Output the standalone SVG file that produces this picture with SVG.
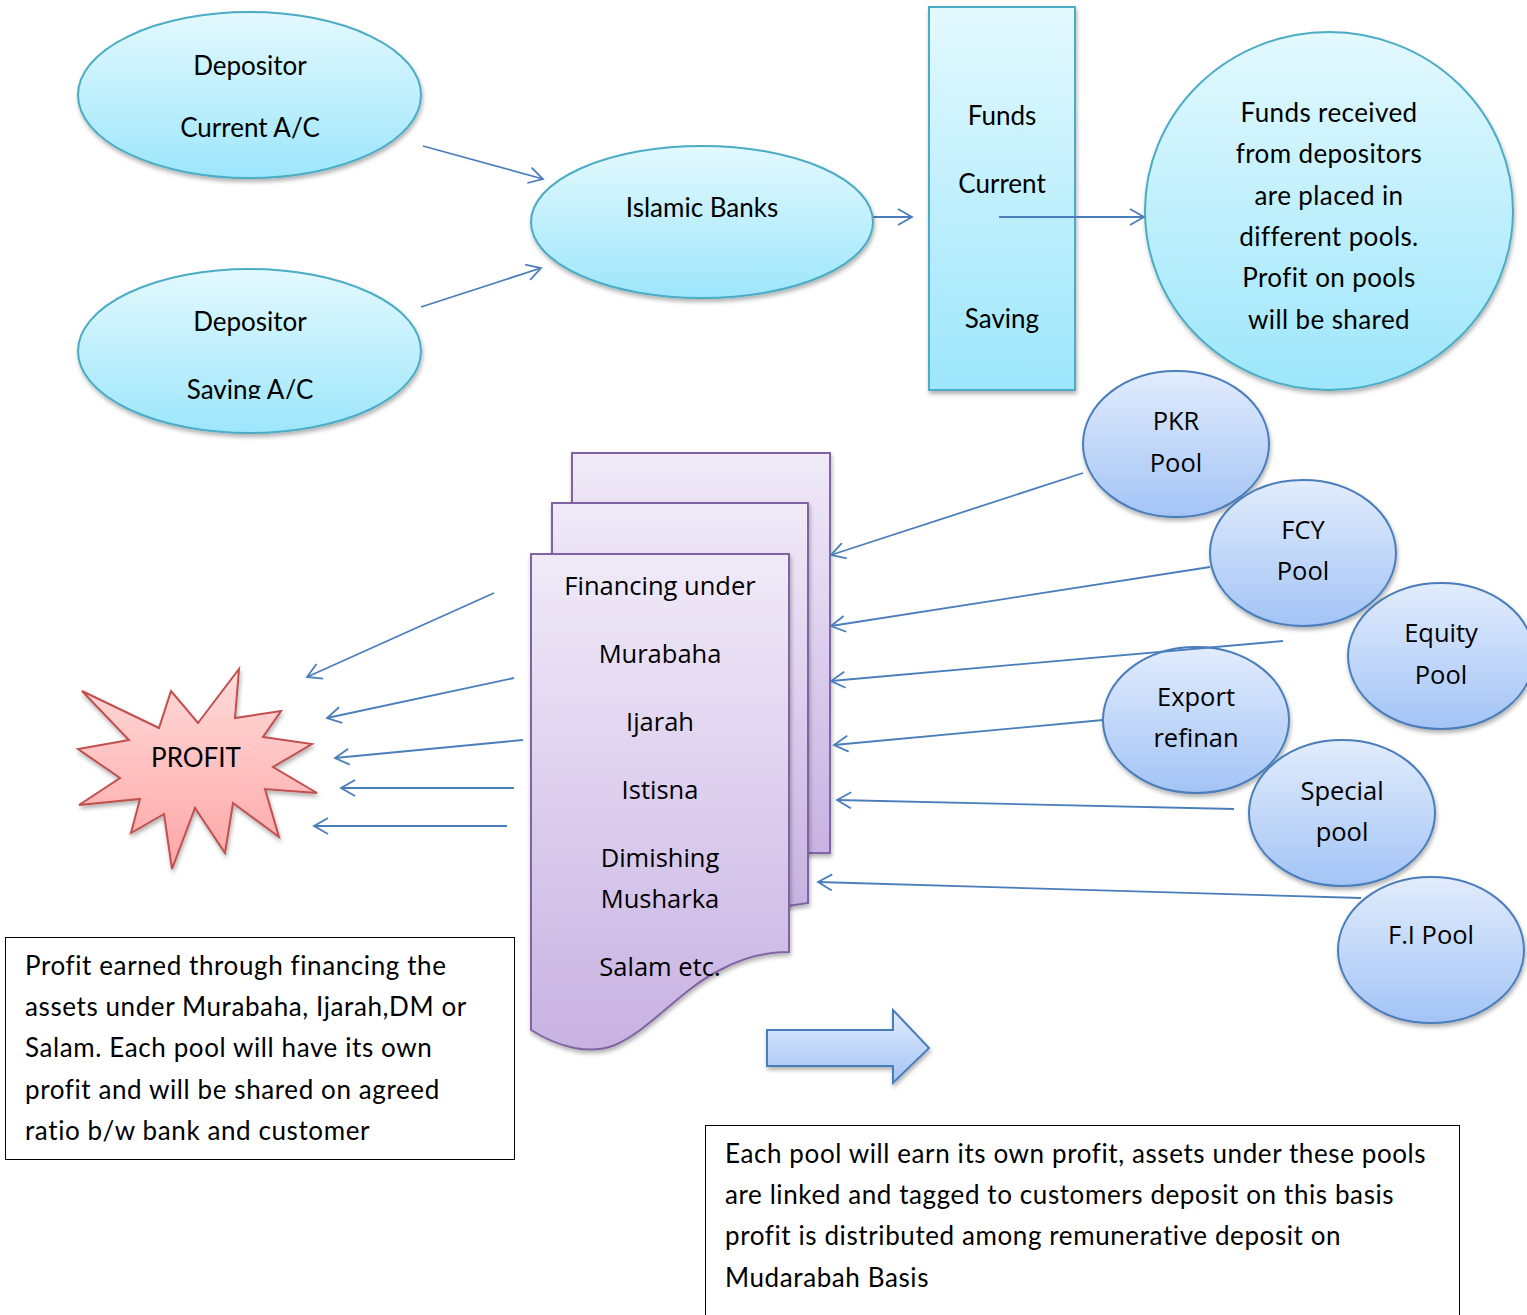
<svg xmlns="http://www.w3.org/2000/svg" width="1527" height="1315" viewBox="0 0 1527 1315">
<style>
.cal{font-family:Lato,"Liberation Sans",sans-serif;font-size:26px;fill:#000}
.nt{letter-spacing:0.6px}
.ls{letter-spacing:0.4px}
.op{font-family:"Open Sans","Liberation Sans",sans-serif;font-size:25.5px;fill:#000}
.mid{text-anchor:middle}
.cy{fill:url(#gCyan);stroke:#4bacc6;stroke-width:2;filter:url(#sh)}
.pool{fill:url(#gBlue);stroke:#4a7ebb;stroke-width:2;filter:url(#sh)}
.doc{fill:url(#gPurp);stroke:#8064a2;stroke-width:2;filter:url(#sh)}
.con{stroke:#4a7ebb;stroke-width:1.8;fill:none;marker-end:url(#arr)}
.box{fill:#fff;stroke:#000;stroke-width:1}
</style>
<defs>
<linearGradient id="gCyan" x1="0" y1="0" x2="0" y2="1"><stop offset="0" stop-color="#e3f9fe"/><stop offset="1" stop-color="#9de6fb"/></linearGradient>
<linearGradient id="gBlue" x1="0" y1="0" x2="0" y2="1"><stop offset="0" stop-color="#e2ecfc"/><stop offset="1" stop-color="#a3c4f6"/></linearGradient>
<linearGradient id="gPurp" x1="0" y1="0" x2="0" y2="1"><stop offset="0" stop-color="#f0eaf8"/><stop offset="1" stop-color="#c8b2e2"/></linearGradient>
<linearGradient id="gRed" x1="0" y1="0" x2="0" y2="1"><stop offset="0" stop-color="#ffdada"/><stop offset="1" stop-color="#ffa6a6"/></linearGradient>
<filter id="sh" x="-10%" y="-10%" width="125%" height="130%"><feDropShadow dx="1" dy="3" stdDeviation="2" flood-color="#000" flood-opacity="0.3"/></filter>
<marker id="arr" markerUnits="userSpaceOnUse" markerWidth="20" markerHeight="20" refX="16" refY="9" orient="auto"><path d="M2,1 L16,9 L2,17" fill="none" stroke="#4a7ebb" stroke-width="1.8"/></marker>
<clipPath id="c1"><rect x="0" y="0" width="600" height="399"/></clipPath>
<clipPath id="c2"><rect x="1100" y="0" width="427" height="331"/></clipPath>
</defs>

<g id="connectors">
<line class="con" x1="423" y1="146" x2="543" y2="179"/>
<line class="con" x1="421" y1="307" x2="541" y2="268"/>
<line class="con" x1="873" y1="217" x2="912" y2="217"/>
</g>

<g id="depositor-current">
<ellipse class="cy" cx="249.5" cy="95" rx="171.5" ry="83"/>
<text class="cal mid" x="250" y="75">Depositor</text>
<text class="cal mid" x="250" y="137">Current A/C</text>
</g>
<g id="depositor-saving">
<ellipse class="cy" cx="249.5" cy="351" rx="171.5" ry="82"/>
<text class="cal mid" x="250" y="331">Depositor</text>
<text class="cal mid" x="250" y="399" clip-path="url(#c1)">Saving A/C</text>
</g>
<g id="islamic-banks">
<ellipse class="cy" cx="702" cy="222" rx="171" ry="76"/>
<text class="cal mid" x="702" y="217">Islamic Banks</text>
</g>
<g id="funds">
<rect class="cy" x="929" y="7" width="146" height="383"/>
<text class="cal mid" x="1002" y="125">Funds</text>
<text class="cal mid" x="1002" y="193">Current</text>
<text class="cal mid" x="1002" y="328">Saving</text>
</g>
<g id="pools-circle">
<ellipse class="cy" cx="1329" cy="211" rx="184" ry="179"/>
<g clip-path="url(#c2)">
<text class="cal mid ls" x="1329" y="122">Funds received</text>
<text class="cal mid ls" x="1329" y="163">from depositors</text>
<text class="cal mid ls" x="1329" y="205">are placed in</text>
<text class="cal mid ls" x="1329" y="246">different pools.</text>
<text class="cal mid ls" x="1329" y="287">Profit on pools</text>
<text class="cal mid ls" x="1329" y="329">will be shared</text>
</g>
</g>
<g id="connectors2">
<line class="con" x1="999" y1="217" x2="1144" y2="217"/>
</g>

<g id="financing">
<rect class="doc" x="572" y="453" width="258" height="400"/>
<path class="doc" d="M552,503 H808 V903 L788,906 H552 Z"/>
<path class="doc" d="M531,554 H789 V952 C765,952 742,958 720,970 C680,990 650,1030 615,1045 C590,1055 560,1048 531,1030 Z"/>
<text class="op mid" x="660" y="595">Financing under</text>
<text class="op mid" x="660" y="663">Murabaha</text>
<text class="op mid" x="660" y="731">Ijarah</text>
<text class="op mid" x="660" y="799">Istisna</text>
<text class="op mid" x="660" y="867">Dimishing</text>
<text class="op mid" x="660" y="908">Musharka</text>
<text class="op mid" x="660" y="976">Salam etc.</text>
</g>

<g id="profit">
<polygon points="82,691 159,728 171,691 198,723 239,669 235,718 281,711 263,737 312,744 273,767 317,793 265,789 279,837 233,803 225,853 195,808 172,869 164,814 131,833 140,799 79,805 120,778 78,749 129,740" fill="url(#gRed)" stroke="#c0504d" stroke-width="2" filter="url(#sh)"/>
<text class="cal mid" x="196" y="767">PROFIT</text>
</g>

<g id="pool-connectors">
<line class="con" x1="1083" y1="473" x2="831" y2="555"/>
<line class="con" x1="1210" y1="567" x2="831" y2="626"/>
<line class="con" x1="1103" y1="720" x2="834" y2="745"/>
<line class="con" x1="1234" y1="809" x2="837" y2="800"/>
<line class="con" x1="1361" y1="898" x2="818" y2="882"/>
</g>

<g id="pkr-pool">
<ellipse class="pool" cx="1176" cy="444" rx="93" ry="73"/>
<text class="op mid" x="1176" y="430">PKR</text>
<text class="op mid" x="1176" y="472">Pool</text>
</g>
<g id="fcy-pool">
<ellipse class="pool" cx="1303" cy="553" rx="93" ry="73"/>
<text class="op mid" x="1303" y="539">FCY</text>
<text class="op mid" x="1303" y="580">Pool</text>
</g>
<g id="equity-pool">
<ellipse class="pool" cx="1441" cy="656" rx="93" ry="73"/>
<text class="op mid" x="1441" y="642">Equity</text>
<text class="op mid" x="1441" y="684">Pool</text>
</g>
<g id="export-refinan">
<ellipse class="pool" cx="1196" cy="720" rx="93" ry="73"/>
<text class="op mid" x="1196" y="706">Export</text>
<text class="op mid" x="1196" y="747">refinan</text>
</g>
<g id="connectors3">
<line class="con" x1="1283" y1="641" x2="831" y2="681"/>
</g>
<g id="special-pool">
<ellipse class="pool" cx="1342" cy="813" rx="93" ry="73"/>
<text class="op mid" x="1342" y="800">Special</text>
<text class="op mid" x="1342" y="841">pool</text>
</g>
<g id="fi-pool">
<ellipse class="pool" cx="1431" cy="950" rx="93" ry="73"/>
<text class="op mid" x="1431" y="944">F.I Pool</text>
</g>

<g id="profit-connectors">
<line class="con" x1="494" y1="593" x2="307" y2="677"/>
<line class="con" x1="514" y1="678" x2="327" y2="718"/>
<line class="con" x1="523" y1="740" x2="335" y2="758"/>
<line class="con" x1="514" y1="788" x2="341" y2="788"/>
<line class="con" x1="507" y1="826" x2="314" y2="826"/>
</g>

<g id="note-left">
<rect class="box" x="5.5" y="937.5" width="509" height="222"/>
<text class="cal nt" x="25" y="975">Profit earned through financing the</text>
<text class="cal nt" x="25" y="1016">assets under Murabaha, Ijarah,DM or</text>
<text class="cal nt" x="25" y="1057">Salam. Each pool will have its own</text>
<text class="cal nt" x="25" y="1099">profit and will be shared on agreed</text>
<text class="cal nt" x="25" y="1140">ratio b/w bank and customer</text>
</g>

<g id="block-arrow">
<path d="M767,1030 H893 V1010 L929,1048 L893,1083 V1066 H767 Z" fill="url(#gBlue)" stroke="#4a7ebb" stroke-width="2" filter="url(#sh)"/>
</g>

<g id="note-right">
<rect class="box" x="705.5" y="1125.5" width="754" height="200"/>
<text class="cal nt" x="725" y="1163">Each pool will earn its own profit, assets under these pools</text>
<text class="cal nt" x="725" y="1204">are linked and tagged to customers deposit on this basis</text>
<text class="cal nt" x="725" y="1245">profit is distributed among remunerative deposit on</text>
<text class="cal nt" x="725" y="1287">Mudarabah Basis</text>
</g>
</svg>
